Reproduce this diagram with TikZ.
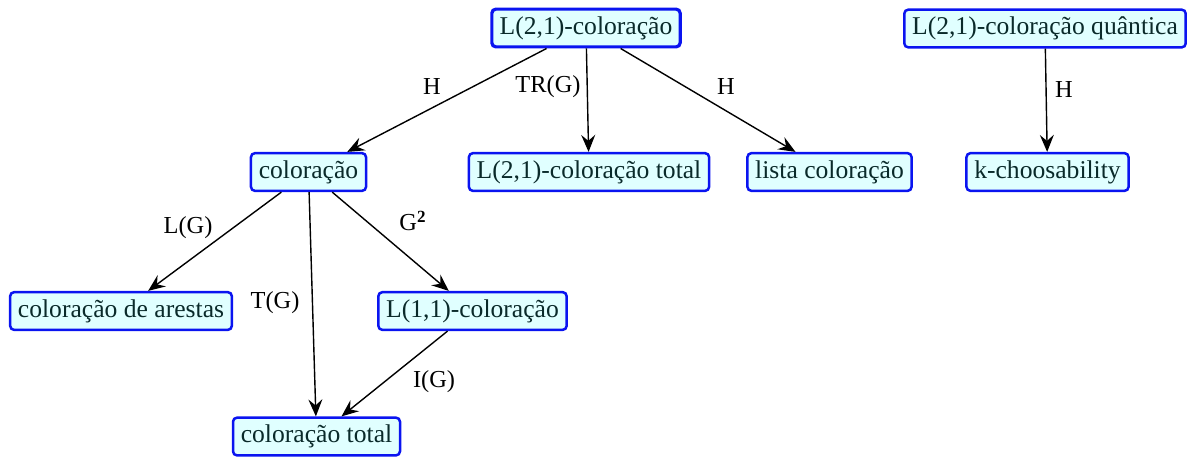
\documentclass[tikz,border=0pt]{standalone}
\usepackage{fontspec}
\setmainfont{Liberation Serif}
\usetikzlibrary{arrows.meta}
\definecolor{boxfill}{HTML}{E0FFFF}
\definecolor{boxline}{HTML}{0A14F0}
\definecolor{boxtext}{HTML}{0A2A2A}
\begin{document}
\begin{tikzpicture}[x=0.5pt,y=-0.5pt,
  box/.style={draw=boxline, line width=1.25pt, fill=boxfill, rounded corners=2pt,
    text=boxtext, font=\fontsize{12.8}{15}\selectfont, inner xsep=3.9pt,
    minimum height=18.5pt, text height=9.2pt, text depth=3pt},
  topbox/.style={box, line width=1.6pt},
  link/.style={line width=0.7pt, -{Stealth[length=8.5pt,width=7pt,inset=3pt]}},
  lbl/.style={font=\fontsize{12.2}{14}\selectfont, text=black, inner sep=0pt}]
\useasboundingbox (0,0) rectangle (1192,457);

% vertices
\node[topbox] (l21) at (586,28) {L(2,1)-coloração};
\node[box] (q21) at (1045,28.5) {L(2,1)-coloração quântica};
\node[box] (col) at (308.5,172) {coloração};
\node[box] (l21t) at (589,172) {L(2,1)-coloração total};
\node[box] (lis) at (829.5,172) {lista coloração};
\node[box] (kch) at (1047.5,172) {k-choosability};
\node[box] (are) at (121,311) {coloração de arestas};
\node[box] (l11) at (472.5,311) {L(1,1)-coloração};
\node[box] (tot) at (316.5,436.5) {coloração total};

% reductions
\draw[link] (l21) -- (col);
\draw[link] (l21) -- (l21t);
\draw[link] (l21) -- (lis);
\draw[link] (q21) -- (kch);
\draw[link] (col) -- (are);
\draw[link] (col) -- (tot);
\draw[link] (col) -- (l11);
\draw[link] (l11) -- (tot);

% edge labels
\node[lbl] (hA) at (432,87) {H};
\node[lbl] (tr) at (548,87) {TR(G)};
\node[lbl] (hB) at (726,87) {H};
\node[lbl] (hC) at (1064,90) {H};
\node[lbl] (lg) at (188,228) {L(G)};
\node[lbl] (tg) at (275,303) {T(G)};
\node[lbl] (g2) at (413,221) {G\textsuperscript{\textbf{2}}};
\node[lbl] (ig) at (434,382) {I(G)};
\end{tikzpicture}
\end{document}
